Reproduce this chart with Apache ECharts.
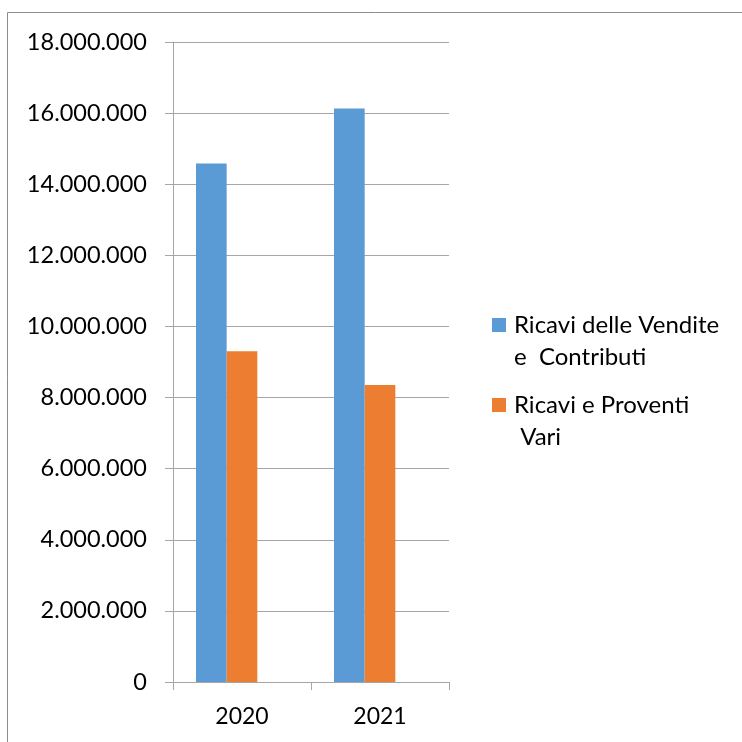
<!DOCTYPE html>
<html>
<head>
<meta charset="utf-8">
<script src="https://cdn.jsdelivr.net/npm/echarts@6/dist/echarts.min.js"></script>
<style>
html,body{margin:0;padding:0;background:#fff;}
#c{width:742px;height:742px;}
</style>
</head>
<body>
<div id="c"></div>
<script>
var categories = ['2020', '2021'];
var seriesNames = ['Ricavi delle Vendite\ne  Contributi', 'Ricavi e Proventi\n Vari'];
var vendite = [14580000, 16130000];
var proventi = [9300000, 8350000];
var emptySeries = ['-', '-'];
var yTicks = { min: 0, max: 18000000, interval: 2000000 };

function fmt(v) {
  return String(v).replace(/\B(?=(\d{3})+(?!\d))/g, '.');
}

var chart = echarts.init(document.getElementById('c'));
var FONT = 'Lato';
function legendFor(name, top) {
  return {
    orient: 'vertical',
    left: 492,
    top: top,
    padding: 0,
    itemWidth: 14,
    itemHeight: 14,
    icon: 'rect',
    data: [name],
    formatter: function (n) { return '\u00a0\n' + n; },
    textStyle: {
      fontFamily: FONT, fontSize: 24, color: '#000', lineHeight: 32,
      padding: [0, 0, 0, 3]
    }
  };
}
chart.setOption({
  animation: false,
  backgroundColor: '#fff',
  graphic: [{
    type: 'rect',
    shape: { x: 7.5, y: 12.5, width: 760, height: 760 },
    style: { fill: 'none', stroke: '#8c8c8c', lineWidth: 1 },
    silent: true
  }],
  grid: { left: 173, right: 293, top: 42, bottom: 60, containLabel: false },
  legend: [legendFor(seriesNames[0], 277), legendFor(seriesNames[1], 357)],
  xAxis: {
    type: 'category',
    data: categories,
    axisLine: { lineStyle: { color: '#a6a6a6', width: 1 } },
    axisTick: { show: true, length: 8, lineStyle: { color: '#a6a6a6' } },
    axisLabel: { fontFamily: FONT, fontSize: 23, color: '#000', margin: 23 }
  },
  yAxis: {
    type: 'value',
    min: yTicks.min, max: yTicks.max, interval: yTicks.interval,
    axisLine: { show: true, lineStyle: { color: '#a6a6a6', width: 1 } },
    axisTick: { show: true, length: 8, inside: false, lineStyle: { color: '#a6a6a6' } },
    splitLine: { lineStyle: { color: '#a6a6a6', width: 1 } },
    axisLabel: { fontFamily: FONT, fontSize: 23.5, color: '#000', margin: 26, formatter: fmt }
  },
  series: [
    { name: seriesNames[0], type: 'bar', data: vendite, itemStyle: { color: '#5B9BD5' }, barGap: '0%', barCategoryGap: '33.33%' },
    { name: seriesNames[1], type: 'bar', data: proventi, itemStyle: { color: '#ED7D31' }, barGap: '0%', barCategoryGap: '33.33%' },
    { name: 'hidden', type: 'bar', data: emptySeries, itemStyle: { color: 'transparent' }, barGap: '0%', barCategoryGap: '33.33%' }
  ]
});
</script>
</body>
</html>
